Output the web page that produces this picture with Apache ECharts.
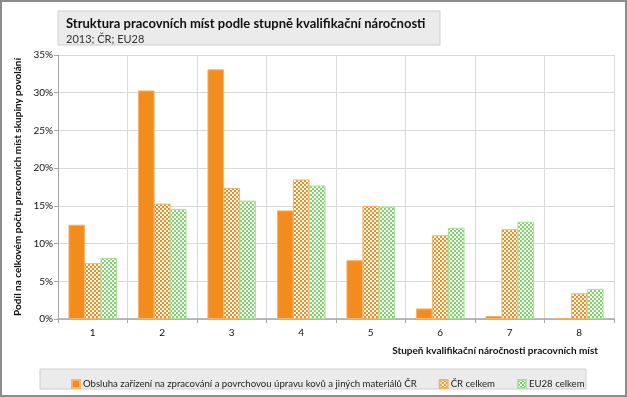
<!DOCTYPE html>
<html>
<head>
<meta charset="utf-8">
<script src="https://cdn.jsdelivr.net/npm/echarts@6/dist/echarts.min.js"></script>
<style>
  html, body { margin: 0; padding: 0; background: #fff; }
  #chart { width: 627px; height: 397px; box-sizing: border-box; border: 2px solid #8c8c8c; }
</style>
</head>
<body>
<div id="chart"></div>
<script>
const categories = ["1", "2", "3", "4", "5", "6", "7", "8"];
const obsluhaValues = [12.5, 30.3, 33.1, 14.4, 7.8, 1.4, 0.4, 0.1];
const crValues = [7.4, 15.3, 17.4, 18.5, 15.0, 11.1, 11.9, 3.4];
const euValues = [8.1, 14.6, 15.7, 17.7, 14.9, 12.1, 12.9, 4.0];
const seriesNames = [
  "Obsluha zařízení na zpracování a povrchovou úpravu kovů a jiných materiálů ČR",
  "ČR celkem",
  "EU28 celkem"
];

const font = "Lato, 'Open Sans', sans-serif";

// checkered fill like the excel pattern
function checker(color) {
  const c = document.createElement("canvas");
  c.width = 4;
  c.height = 4;
  const ctx = c.getContext("2d");
  ctx.fillStyle = "#fff";
  ctx.fillRect(0, 0, 4, 4);
  ctx.fillStyle = color;
  ctx.fillRect(0, 0, 2, 2);
  ctx.fillRect(2, 2, 2, 2);
  return { image: c, repeat: "repeat" };
}

const chart = echarts.init(document.getElementById("chart"));
const option = {
  animation: false,
  textStyle: { fontFamily: font },
  title: {
    text: "Struktura pracovních míst podle stupně kvalifikační náročnosti",
    subtext: "2013; ČR; EU28",
    left: 59,
    top: 10,
    itemGap: 4,
    textStyle: { fontSize: 13, fontWeight: "bold", color: "#111", fontFamily: font },
    subtextStyle: { fontSize: 11, color: "#333", fontFamily: font }
  },
  graphic: [
    {
      type: "rect",
      z: -1,
      shape: { x: 56, y: 9, width: 382, height: 34 },
      style: { fill: "#ebebeb", stroke: "#cfcfcf", lineWidth: 1 }
    },
    {
      type: "rect",
      z: -1,
      shape: { x: 38, y: 367, width: 546, height: 20 },
      style: { fill: "#ebebeb", stroke: "#cfcfcf", lineWidth: 1 }
    },
    {
      type: "text",
      right: 27,
      top: 344,
      style: {
        text: "Stupeň kvalifikační náročnosti pracovních míst",
        font: "bold 10px " + font,
        fill: "#111"
      }
    }
  ],
  legend: {
    top: 372,
    left: 64,
    itemWidth: 8,
    itemHeight: 8,
    itemGap: 22,
    icon: "rect",
    textStyle: { fontSize: 9.6, color: "#222", padding: [0, 0, 0, -2] },
    data: seriesNames
  },
  grid: { left: 56, right: 11, top: 53, bottom: 76 },
  xAxis: {
    type: "category",
    data: categories,
    axisLine: { lineStyle: { color: "#a6a6a6", width: 1.5 } },
    axisTick: { show: true, length: 4, lineStyle: { color: "#a6a6a6" } },
    axisLabel: { fontSize: 10, color: "#111", margin: 9 },
    splitLine: { show: true, lineStyle: { color: "#d9d9d9" } }
  },
  yAxis: {
    type: "value",
    min: 0,
    max: 35,
    interval: 5,
    name: "Podíl na celkovém počtu pracovních míst skupiny povolání",
    nameLocation: "middle",
    nameGap: 30,
    nameRotate: 90,
    nameTextStyle: { fontSize: 10, fontWeight: "bold", color: "#111" },
    axisLine: { show: true, lineStyle: { color: "#a6a6a6" } },
    axisTick: { show: true, length: 4, lineStyle: { color: "#a6a6a6" } },
    axisLabel: { fontSize: 10, color: "#111", margin: 5, formatter: "{value}%" },
    splitLine: { lineStyle: { color: "#d9d9d9" } }
  },
  series: [
    {
      name: seriesNames[0],
      type: "bar",
      data: obsluhaValues,
      barGap: "-4%",
      barCategoryGap: "30%",
      itemStyle: { color: "#f28c1c", borderColor: "#f7b46a", borderWidth: 1 }
    },
    {
      name: seriesNames[1],
      type: "bar",
      data: crValues,
      barGap: "-4%",
      barCategoryGap: "30%",
      itemStyle: { color: checker("#f28c1c"), borderColor: "#f6b26b", borderWidth: 1 }
    },
    {
      name: seriesNames[2],
      type: "bar",
      data: euValues,
      barGap: "-4%",
      barCategoryGap: "30%",
      itemStyle: { color: checker("#7fd36b"), borderColor: "#a8e29a", borderWidth: 1 }
    }
  ]
};
chart.setOption(option);
</script>
</body>
</html>
